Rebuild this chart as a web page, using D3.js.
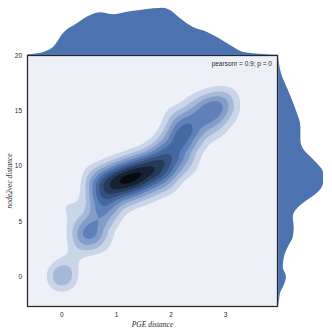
<!DOCTYPE html>
<html>
<head>
<meta charset="utf-8">
<script src="https://cdn.jsdelivr.net/npm/d3@7"></script>
<style>
  html, body { margin: 0; padding: 0; background: #fff; }
  svg { display: block; }
  .tick-label { font-family: "Liberation Sans", Arial, sans-serif; font-size: 6.5px; fill: #262626; }
  .axis-label { font-family: "Liberation Serif", "Times New Roman", serif; font-style: italic; font-size: 7.5px; fill: #262626; }
</style>
</head>
<body>
<script>
// x / y ticks of the joint axes
const xTicks = [0, 1, 2, 3];
const yTicks = [0, 5, 10, 15, 20];
const xLabel = 'PGE distance';
const yLabel = 'node2vec distance';
const statLabel = 'pearsonr = 0.9; p = 0';

// marginal density of PGE distance: [x, density]
const xMarginal = [
  [-0.63, 0.006], [-0.34, 0.025], [-0.16, 0.067], [0.02, 0.183], [0.28, 0.267],
  [0.52, 0.333], [0.70, 0.356], [0.94, 0.339], [1.19, 0.361], [1.43, 0.375],
  [1.67, 0.389], [1.85, 0.394], [1.98, 0.375], [2.16, 0.308], [2.40, 0.233],
  [2.66, 0.192], [2.84, 0.150], [3.08, 0.083], [3.32, 0.025], [3.68, 0.008], [3.95, 0.002]
];

// marginal density of node2vec distance: [y, density]
const yMarginal = [
  [20.0, 0.0], [18.4, 0.025], [16.9, 0.083], [15.1, 0.150], [13.55, 0.190],
  [12.4, 0.190], [11.5, 0.217], [10.6, 0.300], [9.4, 0.383], [8.5, 0.383],
  [7.6, 0.333], [6.7, 0.217], [6.05, 0.150], [5.4, 0.125], [4.5, 0.133],
  [3.6, 0.125], [2.7, 0.083], [1.8, 0.050], [0.9, 0.040], [0.0, 0.067],
  [-0.7, 0.050], [-1.45, 0.017], [-2.1, 0.008], [-2.7, 0.0]
];

// weighted samples behind the joint KDE: [x, y, weight]
const lowerPoints = [
  [0.00, 0.00, 2.6], [0.12, 1.10, 0.35], [0.22, 2.00, 0.4],
  [0.39, 3.25, 1.4], [0.50, 3.88, 1.5], [0.61, 4.52, 1.4],
  [0.63, 5.60, 0.8], [0.66, 6.70, 0.9], [0.11, 6.50, 0.9]
];
const corePoints = [
  [0.70, 7.86, 2.0], [0.88, 8.22, 2.5], [1.07, 8.58, 2.9], [1.25, 8.85, 3.0],
  [1.43, 9.21, 2.8], [1.61, 9.58, 2.6], [1.80, 9.94, 2.3], [1.98, 10.30, 1.9]
];
const upperPoints = [
  [2.09, 11.3, 1.4], [2.16, 12.4, 1.9], [2.24, 13.4, 1.9], [2.42, 14.0, 1.4],
  [2.60, 14.6, 1.4], [2.77, 15.2, 1.9], [2.93, 15.7, 1.4], [3.08, 16.3, 0.7]
];
const sidePoints = [
  [0.28, 4.60, 0.9], [0.74, 3.05, 0.9], [0.89, 5.37, 1.0],
  [0.63, 8.98, 1.8], [1.00, 9.70, 1.8], [1.36, 10.33, 1.8], [1.73, 11.06, 1.8],
  [0.79, 6.48, 1.9], [1.16, 7.20, 1.9], [1.52, 7.83, 1.9], [1.89, 8.56, 1.9],
  [1.93, 12.25, 1.3], [2.08, 14.35, 1.3], [2.44, 15.55, 1.0], [2.70, 16.3, 0.4],
  [2.28, 10.2, 1.5], [2.43, 12.3, 1.5], [2.79, 13.5, 1.4], [3.08, 14.6, 0.7]
];

const width = 332, height = 334;
const plot = { left: 27.5, right: 277.5, top: 55.5, bottom: 306.5 };
const baseColor = '#4c72b0';
const nLevels = 10;

const svg = d3.select('body').append('svg')
  .attr('width', width)
  .attr('height', height);

const x = d3.scaleLinear().domain([-0.63, 3.95]).range([plot.left, plot.right]);
const y = d3.scaleLinear().domain([-2.7, 20]).range([plot.bottom, plot.top]);

// colour ramp: same hue as the base colour, lightness 1 -> 0
const hue = d3.hsl(baseColor);
const ramp = (t) => d3.hsl(hue.h, hue.s, 1 - t).toString();

svg.append('clipPath').attr('id', 'clip')
  .append('rect')
  .attr('x', plot.left).attr('y', plot.top)
  .attr('width', plot.right - plot.left)
  .attr('height', plot.bottom - plot.top);

const joint = svg.append('g').attr('clip-path', 'url(#clip)');

joint.append('rect')
  .attr('x', plot.left).attr('y', plot.top)
  .attr('width', plot.right - plot.left)
  .attr('height', plot.bottom - plot.top)
  .attr('fill', ramp(0.5 / nLevels));

const samples = lowerPoints.concat(corePoints, upperPoints, sidePoints);

const density = d3.contourDensity()
  .x((d) => x(d[0]))
  .y((d) => y(d[1]))
  .weight((d) => d[2])
  .size([width, height])
  .cellSize(1)
  .bandwidth(10);

const contours = density.contours(samples);
const step = contours.max / (nLevels - 0.6);

for (let k = 1; k < nLevels; k++) {
  joint.append('path')
    .attr('d', d3.geoPath()(contours(k * step)))
    .attr('fill', ramp((k + 0.5) / nLevels));
}

// frame
svg.append('rect')
  .attr('x', plot.left).attr('y', plot.top)
  .attr('width', plot.right - plot.left)
  .attr('height', plot.bottom - plot.top)
  .attr('fill', 'none')
  .attr('stroke', '#262626')
  .attr('stroke-width', 1.25);

// marginals
const topScale = d3.scaleLinear().domain([0, 0.394]).range([plot.top - 0.6, 7.7]);
svg.append('path')
  .datum(xMarginal)
  .attr('fill', baseColor)
  .attr('d', d3.area()
    .curve(d3.curveMonotoneX)
    .x((d) => x(d[0]))
    .y0(plot.top - 0.6)
    .y1((d) => topScale(d[1])));

const rightScale = d3.scaleLinear().domain([0, 0.383]).range([plot.right + 0.6, 323]);
svg.append('path')
  .datum(yMarginal)
  .attr('fill', baseColor)
  .attr('d', d3.area()
    .curve(d3.curveMonotoneY)
    .y((d) => y(d[0]))
    .x0(plot.right + 0.6)
    .x1((d) => rightScale(d[1])));

// tick labels
svg.selectAll('.xt').data(xTicks).enter().append('text')
  .attr('class', 'tick-label')
  .attr('x', (d) => x(d))
  .attr('y', 316.5)
  .attr('text-anchor', 'middle')
  .text((d) => d);

svg.selectAll('.yt').data(yTicks).enter().append('text')
  .attr('class', 'tick-label')
  .attr('x', 22)
  .attr('y', (d) => y(d) + 2.3)
  .attr('text-anchor', 'end')
  .text((d) => d);

svg.append('text')
  .attr('class', 'axis-label')
  .attr('x', (plot.left + plot.right) / 2)
  .attr('y', 326.5)
  .attr('text-anchor', 'middle')
  .text(xLabel);

svg.append('text')
  .attr('class', 'axis-label')
  .attr('transform', 'translate(11.5,' + (plot.top + plot.bottom) / 2 + ') rotate(-90)')
  .attr('text-anchor', 'middle')
  .text(yLabel);

svg.append('text')
  .attr('class', 'tick-label')
  .attr('x', 272)
  .attr('y', 65.5)
  .attr('text-anchor', 'end')
  .text(statLabel);
</script>
</body>
</html>
